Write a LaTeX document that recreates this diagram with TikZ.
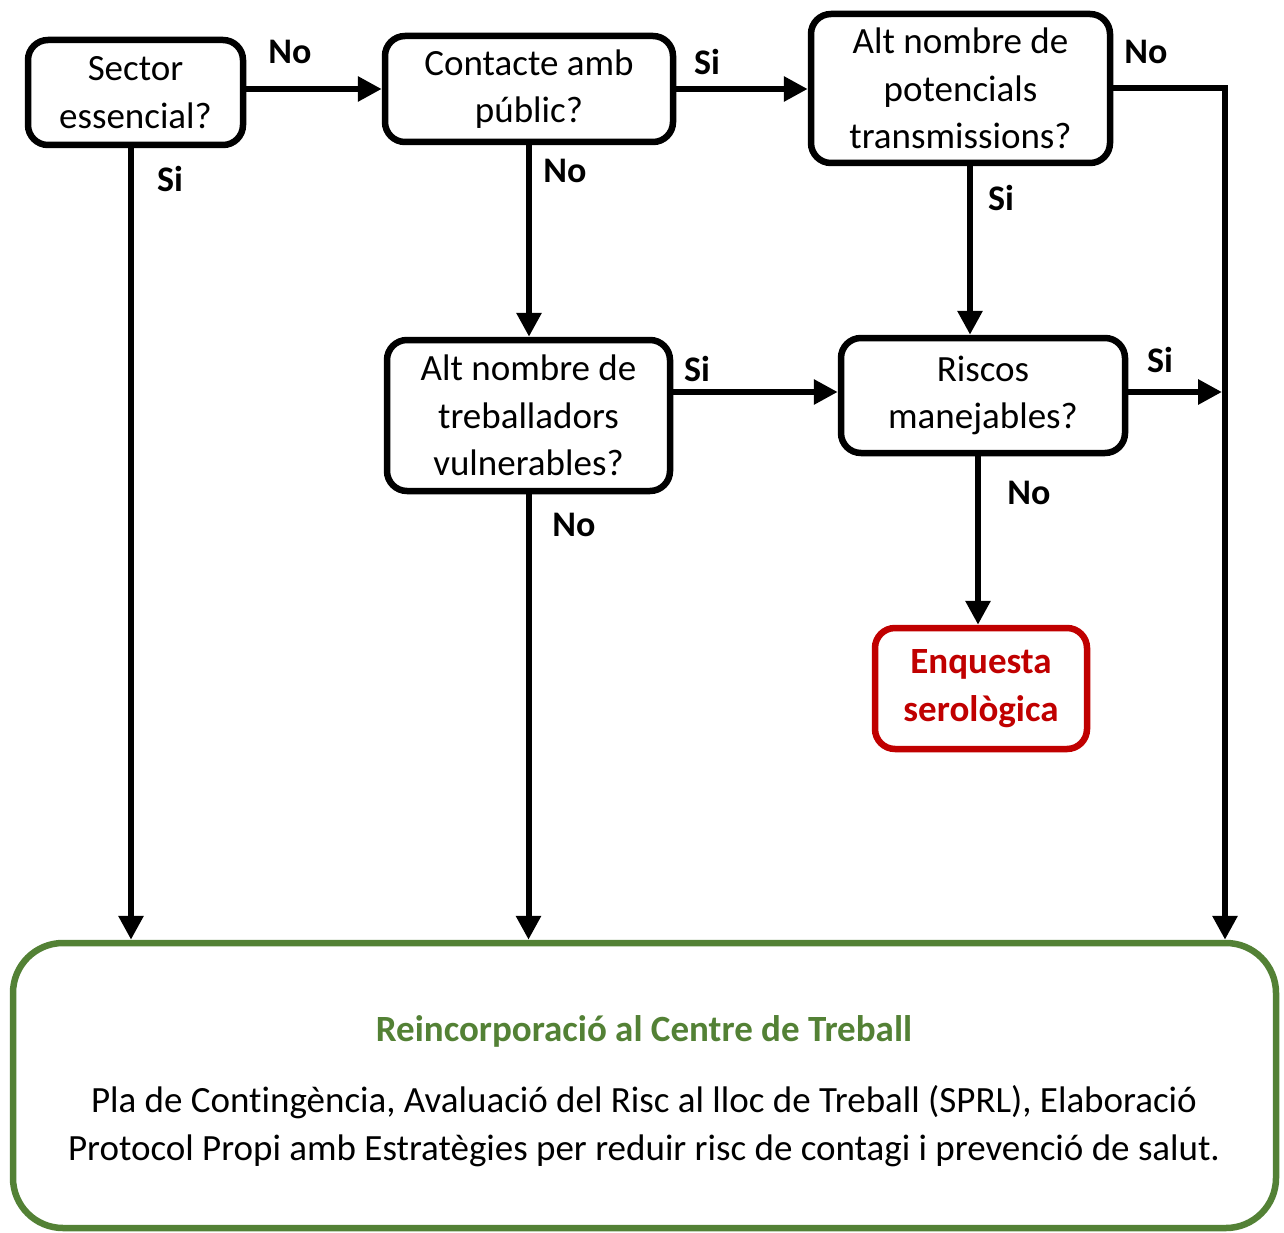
\documentclass[tikz,border=0pt]{standalone}
\usepackage{fontspec}
\setmainfont{Carlito}[Ligatures=NoCommon]
\usetikzlibrary{arrows.meta}
\definecolor{redbox}{HTML}{C00000}
\definecolor{greenbox}{HTML}{538135}
\begin{document}
\begin{tikzpicture}[x=1pt,y=-1pt,
  box/.style={draw, line width=6.5pt, rounded corners=20pt, align=center, inner sep=0pt,
    font=\fontsize{37}{47.5}\selectfont},
  arr/.style={line width=6pt, -{Triangle[length=24pt,width=24pt]}},
  lbl/.style={font=\fontsize{36}{40}\selectfont\bfseries, inner sep=0pt}]
\useasboundingbox (0,0) rectangle (1284,1233);
\node[box, minimum width=215pt, minimum height=105pt] (A) at (135.5,92.5) {Sector\\essencial?};
\node[box, minimum width=288pt, minimum height=106pt] (B) at (529,89) {Contacte amb\\públic?};
\node[box, minimum width=299pt, minimum height=149pt] (C) at (960.5,88.5) {Alt nombre de\\potencials\\transmissions?};
\node[box, minimum width=283pt, minimum height=151pt] (D) at (528.5,415.5) {Alt nombre de\\treballadors\\vulnerables?};
\node[box, minimum width=284pt, minimum height=115pt] (E) at (983,395.5) {\raisebox{-4pt}{\parbox{284pt}{\centering Riscos\\manejables?}}};
\node[box, draw=redbox, text=redbox, minimum width=212pt, minimum height=121pt, font=\fontsize{37}{47.5}\selectfont\bfseries] (F) at (981,688.5) {Enquesta\\serològica};
\node[box, draw=greenbox, rounded corners=50pt, minimum width=1263pt, minimum height=285pt] (G) at (644.5,1085.5) {};
\node[font=\fontsize{37}{47}\selectfont\bfseries, text=greenbox] (Gt) at (644,1031) {Reincorporació al Centre de Treball};
\node[font=\fontsize{37}{48}\selectfont, align=center] (Gb) at (644,1126) {Pla de Contingència, Avaluació del Risc al lloc de Treball (SPRL), Elaboració\\Protocol Propi amb Estratègies per reduir risc de contagi i prevenció de salut.};
\coordinate (rx) at (1225,0);
\coordinate (ax) at (131,0);
\coordinate (cx) at (970,0);
\coordinate (ex) at (978,0);
\coordinate (dy) at (0,392);
\draw[arr] (A.east |- B.west) -- (B.west);
\draw[arr] (B.east) -- (B.east -| C.west);
\draw[arr] (C.east) -| (rx |- G.north);
\draw[arr] (cx |- C.south) -- (cx |- E.north);
\draw[arr] (B.south) -- (B.south |- D.north);
\draw[arr] (ax |- A.south) -- (ax |- G.north);
\draw[arr] (D.east |- dy) -- (E.west |- dy);
\draw[arr] (E.east |- dy) -- ([xshift=-3pt]rx |- dy);
\draw[arr] (ex |- E.south) -- (ex |- F.north);
\draw[arr] (D.south) -- (D.south |- G.north);
\node[lbl] (l1) at (290,52) {No};
\node[lbl] (l2) at (707,62) {Si};
\node[lbl] (l3) at (1146,52) {No};
\node[lbl] (l4) at (1001,198) {Si};
\node[lbl] (l5) at (565,171) {No};
\node[lbl] (l6) at (170,179) {Si};
\node[lbl] (l7) at (697,369) {Si};
\node[lbl] (l8) at (1160,360) {Si};
\node[lbl] (l9) at (1029,493) {No};
\node[lbl] (l10) at (574,525) {No};
\end{tikzpicture}
\end{document}
